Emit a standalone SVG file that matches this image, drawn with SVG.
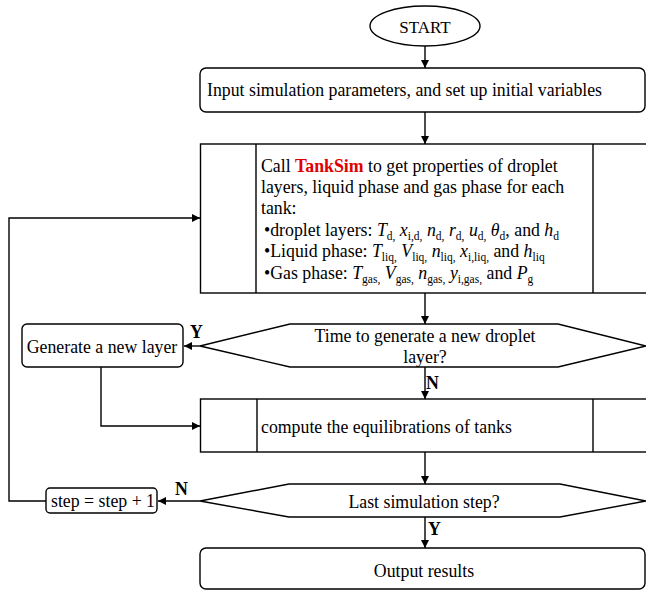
<svg xmlns="http://www.w3.org/2000/svg" width="646" height="591" viewBox="0 0 646 591">
<defs>
<marker id="ah" markerUnits="userSpaceOnUse" markerWidth="10" markerHeight="8" refX="8" refY="4" orient="auto">
<path d="M0,0 L8,4 L0,8 z" fill="#000"/>
</marker>
<style>
.s{fill:#fff;stroke:#000;stroke-width:1.4}
.c{fill:none;stroke:#000;stroke-width:1.4;marker-end:url(#ah)}
.l{fill:none;stroke:#000;stroke-width:1.4}
text{font-family:"Liberation Serif","Times New Roman",serif;font-size:17.8px;fill:#000}
.m{text-anchor:middle}
.b{font-weight:bold}
.i{font-style:italic}
.u{font-size:11.5px}
</style>
</defs>
<rect width="646" height="591" fill="#fff"/>

<g id="connectors">
<path class="c" d="M425,46 V68"/>
<path class="c" d="M425,112 V144"/>
<path class="c" d="M425,293 V324"/>
<path class="c" d="M200,346 H184"/>
<path class="c" d="M425,367 V399"/>
<path class="c" d="M101,367 V426 H200"/>
<path class="c" d="M425,452 V484"/>
<path class="c" d="M200,501 H158"/>
<path class="c" d="M46,501 H9 V218 H200"/>
<path class="c" d="M425,517 V548"/>
<text class="b" x="190" y="338">Y</text>
<text class="b" x="426" y="389">N</text>
<text class="b" x="175" y="495">N</text>
<text class="b" x="428" y="535">Y</text>
</g>

<g id="start">
<ellipse class="s" cx="425" cy="26" rx="55" ry="20"/>
<text class="m" x="425" y="33" style="font-size:17px">START</text>
</g>

<g id="input">
<rect class="s" x="200" y="68" width="445" height="44" rx="6"/>
<text x="207" y="96">Input simulation parameters, and set up initial variables</text>
</g>

<g id="tanksim">
<rect class="s" x="200.5" y="144" width="450" height="149"/>
<path class="l" d="M256,144 V293 M593,144 V293"/>
<text x="261" y="172">Call <tspan class="b" fill="#e00000">TankSim</tspan> to get properties of droplet</text>
<text x="261" y="193">layers, liquid phase and gas phase for each</text>
<text x="261" y="214">tank:</text>
<text x="264" y="236">•droplet layers: <tspan class="i">T</tspan><tspan class="u" dy="3.5">d,</tspan><tspan dy="-3.5"> </tspan><tspan class="i">x</tspan><tspan class="u" dy="3.5">i,d,</tspan><tspan dy="-3.5"> </tspan><tspan class="i">n</tspan><tspan class="u" dy="3.5">d,</tspan><tspan dy="-3.5"> </tspan><tspan class="i">r</tspan><tspan class="u" dy="3.5">d,</tspan><tspan dy="-3.5"> </tspan><tspan class="i">u</tspan><tspan class="u" dy="3.5">d,</tspan><tspan dy="-3.5"> </tspan><tspan class="i">θ</tspan><tspan class="u" dy="3.5">d</tspan><tspan dy="-3.5">, and </tspan><tspan class="i">h</tspan><tspan class="u" dy="3.5">d</tspan></text>
<text x="264" y="257">•Liquid phase: <tspan class="i">T</tspan><tspan class="u" dy="3.5">liq,</tspan><tspan dy="-3.5"> </tspan><tspan class="i">V</tspan><tspan class="u" dy="3.5">liq,</tspan><tspan dy="-3.5"> </tspan><tspan class="i">n</tspan><tspan class="u" dy="3.5">liq,</tspan><tspan dy="-3.5"> </tspan><tspan class="i">x</tspan><tspan class="u" dy="3.5">i,liq,</tspan><tspan dy="-3.5"> and </tspan><tspan class="i">h</tspan><tspan class="u" dy="3.5">liq</tspan></text>
<text x="264" y="279">•Gas phase: <tspan class="i">T</tspan><tspan class="u" dy="3.5">gas,</tspan><tspan dy="-3.5"> </tspan><tspan class="i">V</tspan><tspan class="u" dy="3.5">gas,</tspan><tspan dy="-3.5"> </tspan><tspan class="i">n</tspan><tspan class="u" dy="3.5">gas,</tspan><tspan dy="-3.5"> </tspan><tspan class="i">y</tspan><tspan class="u" dy="3.5">i,gas,</tspan><tspan dy="-3.5"> and </tspan><tspan class="i">P</tspan><tspan class="u" dy="3.5">g</tspan></text>
</g>

<g id="decision1">
<polygon class="s" points="200,346 290,324 558,324 646,346 558,367 290,367"/>
<text class="m" x="425" y="342">Time to generate a new droplet</text>
<text class="m" x="425" y="363">layer?</text>
</g>

<g id="generate">
<rect class="s" x="22" y="324" width="161" height="43" rx="5"/>
<text class="m" x="102" y="353">Generate a new layer</text>
</g>

<g id="compute">
<rect class="s" x="200.5" y="399" width="450" height="53"/>
<path class="l" d="M257,399 V452 M593,399 V452"/>
<text x="261" y="433">compute the equilibrations of tanks</text>
</g>

<g id="decision2">
<polygon class="s" points="200,501 289,484 560,484 646,501 560,517 289,517"/>
<text class="m" x="424" y="508">Last simulation step?</text>
</g>

<g id="step">
<rect class="s" x="46" y="488" width="111" height="25" rx="4"/>
<text class="m" x="103" y="507">step = step + 1</text>
</g>

<g id="output">
<rect class="s" x="200" y="548" width="445" height="41" rx="6"/>
<text class="m" x="424" y="577">Output results</text>
</g>
</svg>
